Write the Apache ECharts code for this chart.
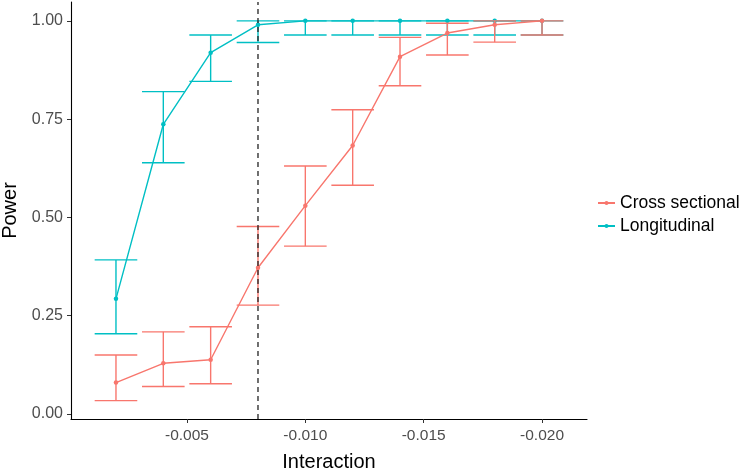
<!DOCTYPE html>
<html>
<head>
<meta charset="utf-8">
<script src="https://cdn.jsdelivr.net/npm/echarts@6/dist/echarts.min.js"></script>
<style>html,body{margin:0;padding:0;background:#fff;}#c{width:745px;height:470px;}</style>
</head>
<body>
<div id="c"></div>
<script>
const interaction = [-0.002, -0.004, -0.006, -0.008, -0.010, -0.012, -0.014, -0.016, -0.018, -0.020];
const crossPower = [0.080, 0.129, 0.138, 0.372, 0.530, 0.683, 0.909, 0.969, 0.990, 1.000];
const crossLow   = [0.034, 0.070, 0.077, 0.277, 0.427, 0.582, 0.835, 0.913, 0.946, 0.964];
const crossHigh  = [0.150, 0.209, 0.222, 0.477, 0.631, 0.774, 0.958, 0.994, 1.000, 1.000];
const longPower  = [0.293, 0.737, 0.919, 0.990, 1.000, 1.000, 1.000, 1.000, 1.000, 1.000];
const longLow    = [0.204, 0.639, 0.846, 0.945, 0.964, 0.964, 0.964, 0.964, 0.964, 0.964];
const longHigh   = [0.392, 0.820, 0.964, 1.000, 1.000, 1.000, 1.000, 1.000, 1.000, 1.000];
const xTicks = [-0.005, -0.010, -0.015, -0.020];
const yTicks = [0, 0.25, 0.5, 0.75, 1.0];
const refLine = -0.008;

const X_MIN = -0.0219, X_MAX = -0.0001, Y_MIN = -0.0127, Y_MAX = 1.048;
const RED = '#F8766D', TEAL = '#00BFC4';
const capHalf = 0.0009;
const LW = 1.4;

function errSeries(name, lo, hi, color, z) {
  return {
    type: 'custom', name: name, z: z,
    data: interaction.map((x, i) => [x, lo[i], hi[i]]),
    encode: { x: 0, y: [1, 2] },
    renderItem: function (params, api) {
      const x = api.value(0), l = api.value(1), h = api.value(2);
      const b = api.coord([x, l]), t = api.coord([x, h]);
      const bl = api.coord([x - capHalf, l]), br = api.coord([x + capHalf, l]);
      const tl = api.coord([x - capHalf, h]), tr = api.coord([x + capHalf, h]);
      const st = { stroke: color, lineWidth: LW };
      return { type: 'group', children: [
        { type: 'line', shape: { x1: b[0], y1: b[1], x2: t[0], y2: t[1] }, style: st },
        { type: 'line', shape: { x1: bl[0], y1: bl[1], x2: br[0], y2: br[1] }, style: st },
        { type: 'line', shape: { x1: tl[0], y1: tl[1], x2: tr[0], y2: tr[1] }, style: st }
      ]};
    },
    silent: true
  };
}
function lineSeries(name, vals, color, z) {
  return {
    type: 'line', name: name, z: z,
    data: interaction.map((x, i) => [x, vals[i]]),
    symbol: 'circle', symbolSize: 4.5,
    itemStyle: { color: color },
    lineStyle: { color: color, width: LW },
    emphasis: { disabled: true }
  };
}

const chart = echarts.init(document.getElementById('c'), null, { renderer: 'canvas' });
const font = 'Liberation Sans, Arial, sans-serif';
chart.setOption({
  animation: false,
  textStyle: { fontFamily: font },
  grid: { left: 71, right: 158, top: 2, bottom: 51, containLabel: false, outerBoundsMode: 'none' },
  legend: {
    data: ['Cross sectional', 'Longitudinal'],
    orient: 'vertical', left: 592, top: 189,
    itemWidth: 17, itemHeight: 5, itemGap: 5,
    textStyle: { fontSize: 17.5, color: '#000', fontFamily: font }
  },
  xAxis: {
    type: 'value', inverse: true, min: X_MIN, max: X_MAX,
    name: 'Interaction', nameLocation: 'middle', nameGap: 33,
    nameTextStyle: { fontSize: 20, color: '#000', fontFamily: font },
    axisLine: { onZero: false, lineStyle: { color: '#000', width: 1.1 } },
    axisTick: { customValues: xTicks, length: 4, lineStyle: { color: '#333' } },
    axisLabel: { customValues: xTicks, margin: 9, fontSize: 15.5, color: '#4d4d4d', fontFamily: font,
      formatter: v => v.toFixed(3) },
    splitLine: { show: false }
  },
  yAxis: {
    type: 'value', min: Y_MIN, max: Y_MAX,
    name: 'Power', nameLocation: 'middle', nameGap: 51,
    nameTextStyle: { fontSize: 20, color: '#000', fontFamily: font },
    axisLine: { show: true, onZero: false, lineStyle: { color: '#000', width: 1.1 } },
    axisTick: { show: true, customValues: yTicks, length: 4, lineStyle: { color: '#333' } },
    axisLabel: { customValues: yTicks, margin: 8, fontSize: 16, color: '#4d4d4d', fontFamily: font,
      formatter: v => v.toFixed(2) },
    splitLine: { show: false }
  },
  series: [
    errSeries('Longitudinal err', longLow, longHigh, TEAL, 2),
    lineSeries('Longitudinal', longPower, TEAL, 3),
    errSeries('Cross sectional err', crossLow, crossHigh, RED, 4),
    lineSeries('Cross sectional', crossPower, RED, 5),
    {
      type: 'line', name: 'ref', z: 6, silent: true,
      data: [[refLine, Y_MIN], [refLine, Y_MAX]],
      symbol: 'none',
      lineStyle: { color: '#222', type: [5, 4], width: 1.3 },
      emphasis: { disabled: true }
    }
  ]
});
</script>
</body>
</html>
